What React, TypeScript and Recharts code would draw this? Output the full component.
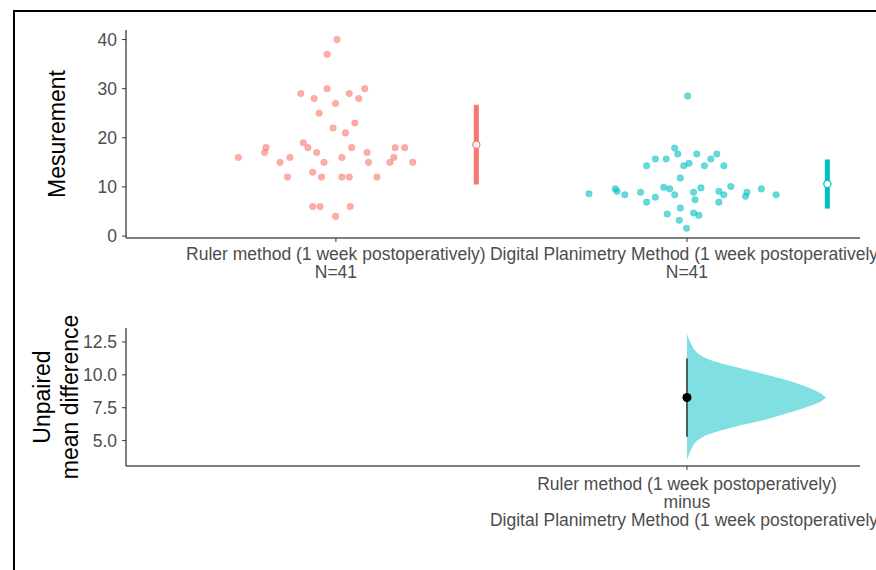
import React from 'react';
import {
  ScatterChart,
  Scatter,
  XAxis,
  YAxis,
  ErrorBar,
  ComposedChart,
  Area,
  ReferenceLine,
  ReferenceDot,
} from 'recharts';

// ---------- data ----------
const categories = [
  'Ruler method (1 week postoperatively)',
  'Digital Planimetry Method (1 week postoperatively)',
];
const groupSizeLabels = ['N=41', 'N=41'];
const deltaLabel = [
  'Ruler method (1 week postoperatively)',
  'minus',
  'Digital Planimetry Method (1 week postoperatively)',
];

const rulerValues = [
  40, 37, 29, 30, 28, 29, 30, 28, 27, 25, 23, 22, 21, 19, 18, 18, 17, 17, 18, 18, 18,
  16, 16, 16, 17, 16, 15, 15, 15, 15, 15, 13, 12, 12, 12, 12, 12, 6, 6, 6, 4,
];
// beeswarm offsets (category units)
const rulerSwarm = [
  0.003, -0.025, -0.1, -0.025, -0.062, 0.038, 0.082, 0.065, -0.001, -0.048, 0.054,
  -0.008, 0.027, -0.093, -0.08, -0.199, -0.203, -0.055, 0.045, 0.169, 0.196, -0.278,
  -0.131, 0.017, 0.089, 0.165, -0.159, -0.034, 0.093, 0.154, 0.219, -0.066, -0.138,
  -0.041, 0.017, 0.038, 0.117, -0.066, -0.045, 0.041, -0.001,
];

const digitalValues = [
  28.5, 17.9, 16.7, 16.7, 15.7, 15.7, 14.3, 14.3, 14.8, 11.8, 8.6, 9.6, 9.1, 8.4, 8.9,
  6.9, 7.9, 9.9, 9.6, 8.4, 8.9, 7.4, 4.5, 5.7, 3.2, 1.6, 4.7, 4.2, 9.8, 15.7, 16.7,
  14.3, 14.3, 10.1, 9.1, 8.4, 6.9, 8.9, 8.1, 9.6, 8.4,
];
const digitalSwarm = [
  0.002, -0.035, -0.026, 0.028, -0.09, -0.059, -0.115, -0.009, 0.006, -0.019, -0.279,
  -0.204, -0.199, -0.177, -0.132, -0.115, -0.09, -0.066, -0.049, -0.035, 0.019, 0.023,
  -0.056, -0.019, -0.022, -0.001, 0.019, 0.034, 0.04, 0.068, 0.085, 0.05, 0.105, 0.125,
  0.091, 0.105, 0.091, 0.171, 0.167, 0.212, 0.254,
];

const topTicks = [0, 10, 20, 30, 40];

// mean difference (bootstrap)
const deltaMean = 8.28;
const deltaCiLow = 5.3;
const deltaCiHigh = 11.25;
const deltaTicks = [5, 7.5, 10, 12.5];
const deltaDensityY = [
  3.55, 4.13, 4.64, 5.02, 5.4, 5.65, 5.91, 6.16, 6.41, 6.67, 6.92, 7.18, 7.43, 7.68,
  7.94, 8.27, 8.57, 8.82, 9.08, 9.33, 9.58, 9.84, 10.09, 10.34, 10.6, 10.85, 11.1,
  11.36, 11.61, 11.99, 12.37, 12.75, 13.13,
];
const deltaDensity = [
  0, 0.021, 0.045, 0.076, 0.136, 0.208, 0.291, 0.387, 0.494, 0.589, 0.673, 0.752, 0.828,
  0.9, 0.959, 1, 0.967, 0.919, 0.864, 0.8, 0.721, 0.637, 0.542, 0.446, 0.351, 0.255,
  0.172, 0.117, 0.081, 0.048, 0.029, 0.012, 0,
];

// ---------- helpers ----------
const mean = (a: number[]) => a.reduce((s, v) => s + v, 0) / a.length;
const sd = (a: number[]) => {
  const m = mean(a);
  return Math.sqrt(a.reduce((s, v) => s + (v - m) * (v - m), 0) / (a.length - 1));
};

const RED = '#F8766D';
const CYAN = '#00BFC4';
const FONT = '"Liberation Sans", Arial, sans-serif';
const TICK_FONT = 17.5;
const TITLE_FONT = 23;
const BAR_OFFSET = 0.4;
const VIOLIN_WIDTH = 0.396;
const X_DOMAIN: [number, number] = [0.402, 2.493];

const rulerData = rulerValues.map((v, i) => ({ x: 1 + rulerSwarm[i], y: v }));
const digitalData = digitalValues.map((v, i) => ({ x: 2 + digitalSwarm[i], y: v }));
const rulerSummary = [{ x: 1 + BAR_OFFSET, y: mean(rulerValues), err: sd(rulerValues) }];
const digitalSummary = [{ x: 2 + BAR_OFFSET, y: mean(digitalValues), err: sd(digitalValues) }];
const violinData = deltaDensityY.map((v, i) => ({ v, w: 2 + deltaDensity[i] * VIOLIN_WIDTH }));

const topTickLines: Record<number, string[]> = {
  1: [categories[0], groupSizeLabels[0]],
  2: [categories[1], groupSizeLabels[1]],
};
const bottomTickLines: Record<number, string[]> = { 2: deltaLabel };

function MultiLineTick(props: any) {
  const { x, y, payload, lines, firstDy } = props;
  const textLines: string[] = lines[payload.value] ?? [];
  return (
    <text x={x} y={y} textAnchor="middle" fill="#4D4D4D" fontSize={TICK_FONT} fontFamily={FONT}>
      {textLines.map((l, i) => (
        <tspan key={i} x={x} dy={i === 0 ? firstDy : 18}>
          {l}
        </tspan>
      ))}
    </text>
  );
}

function AxisTitle(props: any) {
  const { viewBox, lines, baselines } = props;
  const cy = viewBox.y + viewBox.height / 2;
  return (
    <g>
      {lines.map((l: string, i: number) => {
        const bx = viewBox.x + baselines[i];
        return (
          <text
            key={i}
            x={bx}
            y={cy}
            transform={`rotate(-90, ${bx}, ${cy})`}
            textAnchor="middle"
            fontSize={TITLE_FONT}
            fill="#000"
            fontFamily={FONT}
          >
            {l}
          </text>
        );
      })}
    </g>
  );
}

const dot = (color: string) => (p: any) => (
  <circle cx={p.cx} cy={p.cy} r={3.3} fill={color} fillOpacity={0.6} stroke={color} strokeOpacity={0.25} strokeWidth={1} />
);
const meanDot = (color: string) => (p: any) => (
  <circle cx={p.cx} cy={p.cy} r={3.6} fill="#fff" stroke={color} strokeWidth={1.2} />
);

export default function App() {
  return (
    <div
      style={{
        position: 'fixed',
        left: 0,
        top: 0,
        width: 876,
        height: 570,
        overflow: 'hidden',
        background: '#fff',
        fontFamily: FONT,
      }}
    >
      <div
        style={{
          position: 'absolute',
          left: 13,
          top: 10,
          width: 950,
          height: 650,
          borderLeft: '2px solid #000',
          borderTop: '2px solid #000',
        }}
      />
      <div style={{ position: 'absolute', left: 0, top: 0 }}>
        <ScatterChart width={876} height={300} margin={{ top: 30, right: 16, bottom: 0, left: 0 }}>
          <XAxis
            type="number"
            dataKey="x"
            domain={X_DOMAIN}
            ticks={[1, 2]}
            height={62}
            tickSize={4}
            tickMargin={2}
            axisLine={{ stroke: '#000' }}
            tickLine={{ stroke: '#333' }}
            tick={(p: any) => <MultiLineTick {...p} lines={topTickLines} firstDy={16} />}
            interval={0}
          />
          <YAxis
            type="number"
            dataKey="y"
            domain={[-0.4, 41.95]}
            ticks={topTicks}
            width={126}
            tickSize={4}
            tickMargin={5}
            axisLine={{ stroke: '#000' }}
            tickLine={{ stroke: '#333' }}
            tick={{ fill: '#4D4D4D', fontSize: TICK_FONT, fontFamily: FONT }}
            label={<AxisTitle lines={['Mesurement']} baselines={[65]} />}
          />
          <Scatter data={rulerData} isAnimationActive={false} shape={dot(RED)} />
          <Scatter data={digitalData} isAnimationActive={false} shape={dot(CYAN)} />
          <Scatter data={rulerSummary} isAnimationActive={false} shape={meanDot(RED)}>
            <ErrorBar dataKey="err" direction="y" width={0} stroke={RED} strokeWidth={5} isAnimationActive={false} />
          </Scatter>
          <Scatter data={digitalSummary} isAnimationActive={false} shape={meanDot(CYAN)}>
            <ErrorBar dataKey="err" direction="y" width={0} stroke={CYAN} strokeWidth={5} isAnimationActive={false} />
          </Scatter>
        </ScatterChart>
      </div>
      <div style={{ position: 'absolute', left: 0, top: 290 }}>
        <ComposedChart
          layout="vertical"
          width={876}
          height={280}
          data={violinData}
          margin={{ top: 38, right: 16, bottom: 0, left: 0 }}
        >
          <XAxis
            type="number"
            domain={X_DOMAIN}
            ticks={[2]}
            height={104}
            tickSize={4}
            tickMargin={2}
            axisLine={{ stroke: '#000' }}
            tickLine={{ stroke: '#333' }}
            tick={(p: any) => <MultiLineTick {...p} lines={bottomTickLines} firstDy={18} />}
            interval={0}
            allowDataOverflow
          />
          <YAxis
            type="number"
            dataKey="v"
            reversed
            domain={[3.07, 13.56]}
            ticks={deltaTicks}
            tickFormatter={(v: number) => v.toFixed(1)}
            width={126}
            tickSize={4}
            tickMargin={5}
            axisLine={{ stroke: '#000' }}
            tickLine={{ stroke: '#333' }}
            tick={{ fill: '#4D4D4D', fontSize: TICK_FONT, fontFamily: FONT }}
            label={<AxisTitle lines={['Unpaired', 'mean difference']} baselines={[50, 78]} />}
            allowDataOverflow
          />
          <Area
            dataKey="w"
            baseValue={2}
            type="linear"
            fill="#7FDFE1"
            fillOpacity={1}
            stroke="none"
            isAnimationActive={false}
          />
          <ReferenceLine
            segment={[
              { x: 2, y: deltaCiLow },
              { x: 2, y: deltaCiHigh },
            ]}
            stroke="#000"
            strokeWidth={1.2}
          />
          <ReferenceDot x={2} y={deltaMean} r={4.5} fill="#000" stroke="none" />
        </ComposedChart>
      </div>
    </div>
  );
}
